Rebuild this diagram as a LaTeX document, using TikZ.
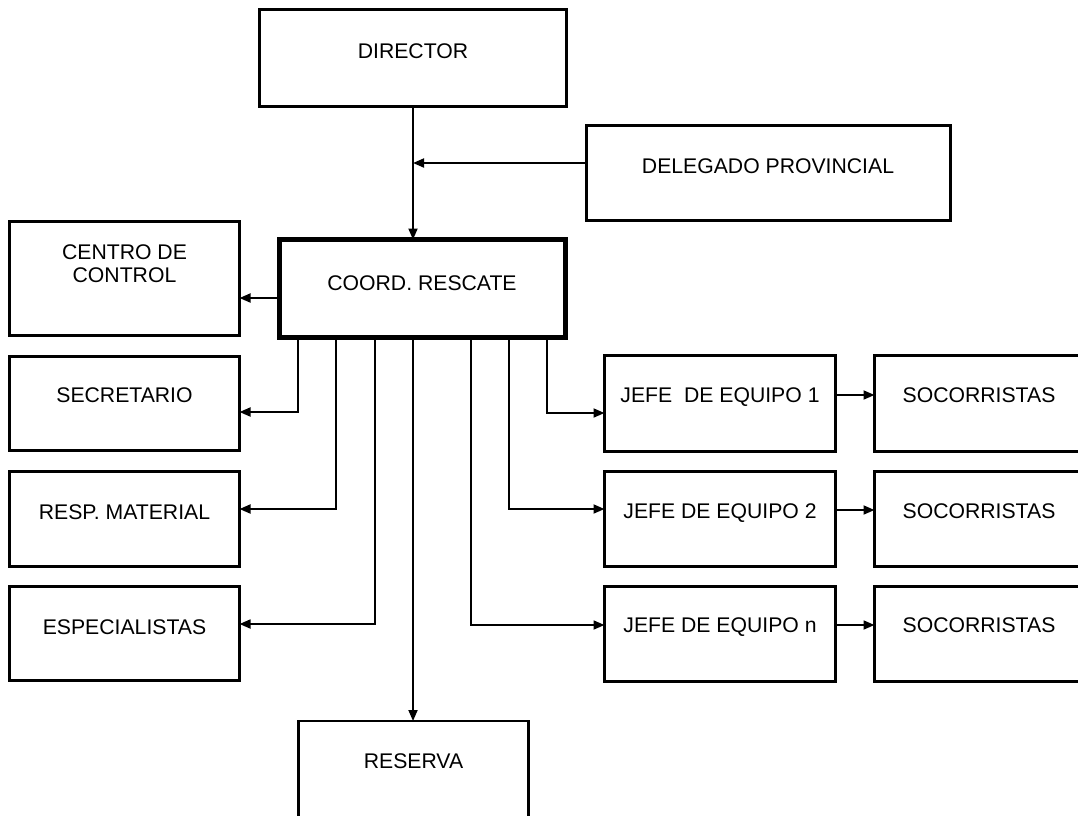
\documentclass[tikz,border=0pt]{standalone}
\usepackage{fontspec}
\setmainfont{Liberation Sans}
\usetikzlibrary{arrows.meta}
\tikzset{
  boxnode/.style={draw=black, line width=2.2pt, inner sep=0pt, outer sep=0pt, rectangle},
  lbl/.style={inner sep=0pt, align=center, text height=15.2pt, text depth=0pt,
    font=\fontsize{21.2pt}{23pt}\selectfont},
  arr/.style={line width=1.8pt, -{Triangle[length=11pt,width=9pt]}},
}
\begin{document}
\begin{tikzpicture}[x=1pt,y=-1pt]
\clip (0,0) rectangle (1078,815);
\fill[white] (0,0) rectangle (1078,815);
% boxes
\node[boxnode, minimum width=307pt, minimum height=97pt] (director) at (413,58) {};
\node[boxnode, minimum width=364pt, minimum height=95pt] (delegado) at (768.5,173) {};
\node[boxnode, line width=5.5pt, minimum width=286pt, minimum height=98pt] (coord) at (422.5,288.5) {};
\node[boxnode, minimum width=230pt, minimum height=114pt] (centro) at (124.5,278.5) {};
\node[boxnode, minimum width=230pt, minimum height=94pt] (secretario) at (124.5,403.5) {};
\node[boxnode, minimum width=230pt, minimum height=95pt] (resp) at (124.5,519) {};
\node[boxnode, minimum width=230pt, minimum height=94pt] (espec) at (124.5,633.5) {};
\node[boxnode, minimum width=231pt, minimum height=96pt] (jefe1) at (720,403.5) {};
\node[boxnode, minimum width=231pt, minimum height=95pt] (jefe2) at (720,519) {};
\node[boxnode, minimum width=231pt, minimum height=95pt] (jefen) at (720,634) {};
\node[boxnode, minimum width=209pt, minimum height=96pt] (soc1) at (979,403.5) {};
\node[boxnode, minimum width=209pt, minimum height=95pt] (soc2) at (979,519) {};
\node[boxnode, minimum width=209pt, minimum height=95pt] (socn) at (979,634) {};
\node[boxnode, minimum width=230pt, minimum height=110pt] (reserva) at (413.5,776) {};
% texts
\node[lbl] (t-director) at (413,51) {DIRECTOR};
\node[lbl] (t-delegado) at (768,166) {DELEGADO PROVINCIAL};
\node[lbl] (t-coord) at (422,283) {COORD. RESCATE};
\node[lbl] (t-centro) at (124.5,274.5) {CENTRO DE\\CONTROL};
\node[lbl] (t-secretario) at (124.5,395) {SECRETARIO};
\node[lbl] (t-resp) at (124.5,512) {RESP. MATERIAL};
\node[lbl] (t-espec) at (124.5,627) {ESPECIALISTAS};
\node[lbl] (t-jefe1) at (720,395) {JEFE~~DE EQUIPO 1};
\node[lbl] (t-jefe2) at (720,511) {JEFE DE EQUIPO 2};
\node[lbl] (t-jefen) at (720,625) {JEFE DE EQUIPO n};
\node[lbl] (t-soc1) at (979,395) {SOCORRISTAS};
\node[lbl] (t-soc2) at (979,511) {SOCORRISTAS};
\node[lbl] (t-socn) at (979,625) {SOCORRISTAS};
\node[lbl] (t-reserva) at (413.5,761) {RESERVA};
% connectors
\draw[arr] (director.south) -- (director.south |- coord.north);
\draw[arr] ([yshift=10pt]delegado.west) -- ([yshift=10pt]delegado.west -| director.south);
\draw[arr] ([yshift=-9.5pt]coord.west) -- ([yshift=-9.5pt]coord.west -| centro.east);
\draw[arr] ([xshift=-124.5pt]coord.south) |- ([yshift=-8.5pt]secretario.east);
\draw[arr] ([xshift=-86.5pt]coord.south) |- ([yshift=10pt]resp.east);
\draw[arr] ([xshift=-47.5pt]coord.south) |- ([yshift=9.5pt]espec.east);
\draw[arr] ([xshift=-9.5pt]coord.south) -- ([xshift=-9.5pt]coord.south |- reserva.north);
\draw[arr] ([xshift=124.5pt]coord.south) |- ([yshift=-9.5pt]jefe1.west);
\draw[arr] ([xshift=86.5pt]coord.south) |- ([yshift=10pt]jefe2.west);
\draw[arr] ([xshift=48.5pt]coord.south) |- ([yshift=9pt]jefen.west);
\draw[arr] ([yshift=8.5pt]jefe1.east) -- ([yshift=8.5pt]jefe1.east -| soc1.west);
\draw[arr] ([yshift=9pt]jefe2.east) -- ([yshift=9pt]jefe2.east -| soc2.west);
\draw[arr] ([yshift=9pt]jefen.east) -- ([yshift=9pt]jefen.east -| socn.west);
\end{tikzpicture}
\end{document}
